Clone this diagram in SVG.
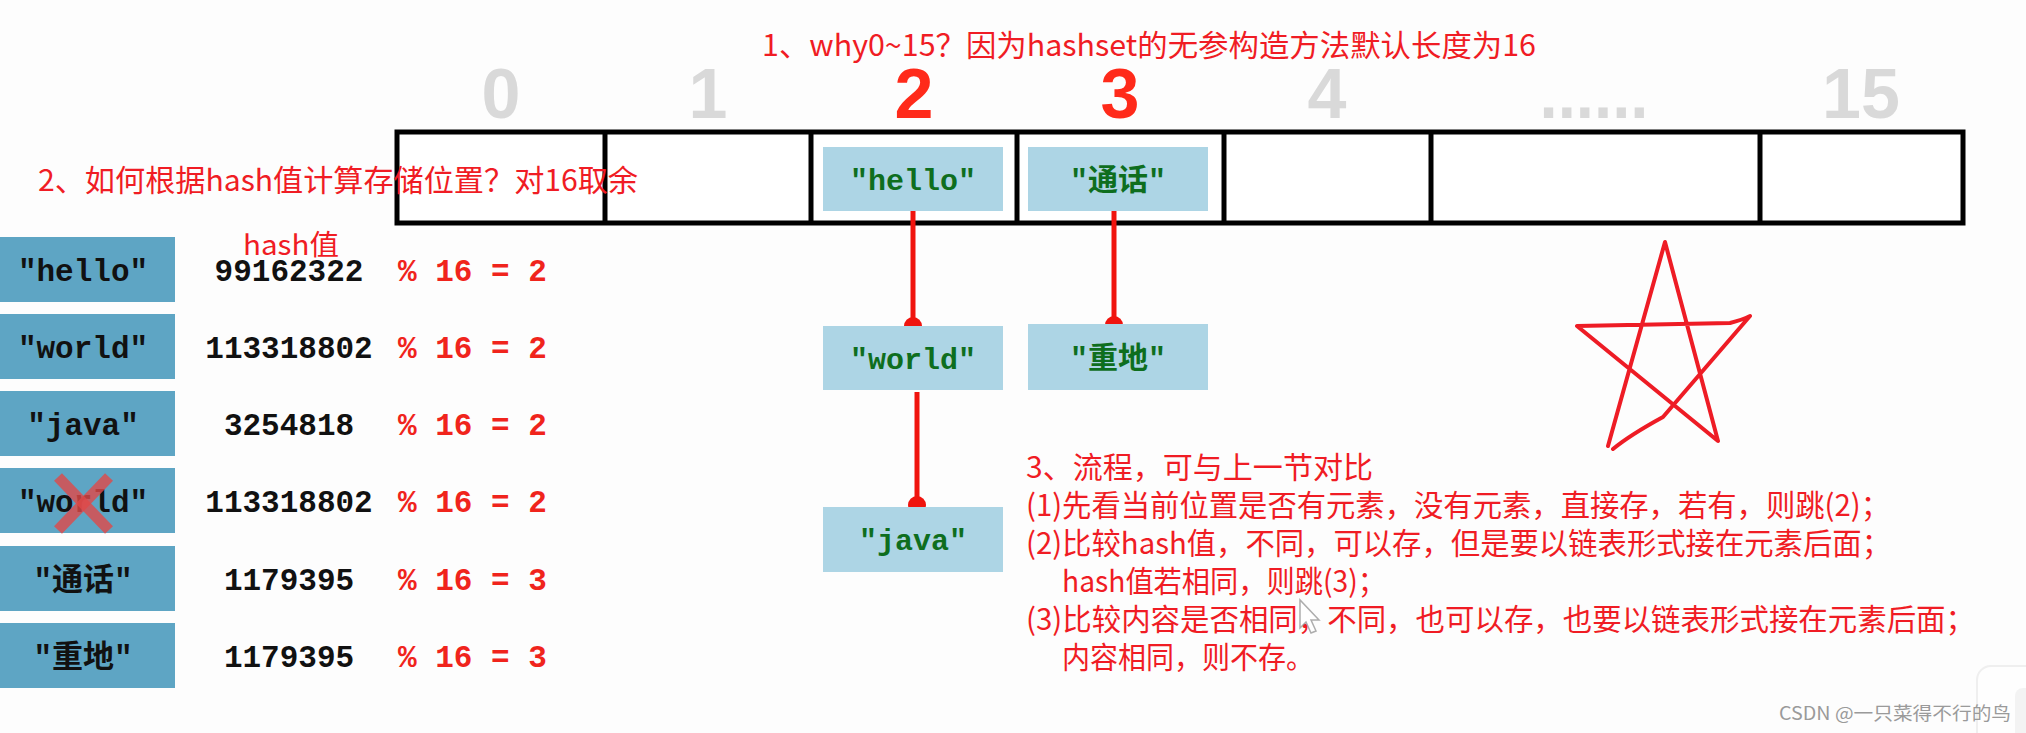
<svg xmlns="http://www.w3.org/2000/svg" width="2026" height="733" viewBox="0 0 2026 733">
<style>
.note{font-family:"Noto Sans CJK SC","Noto Sans",sans-serif;font-size:30px;fill:#f01c24}
.idx{font-family:"Liberation Sans",Arial,sans-serif;font-weight:bold;font-size:70px;text-anchor:middle;fill:#d9d9d9}
.idx.hot{fill:#ff2a1a}
.key{fill:#5ea5c4}
.ktxt{font-family:"Liberation Mono","Noto Sans CJK SC",monospace;font-weight:bold;font-size:31px;fill:#111;text-anchor:middle}
.num{font-family:"Liberation Mono",monospace;font-weight:bold;font-size:31px;fill:#111;text-anchor:middle}
.mod{font-family:"Liberation Mono",monospace;font-weight:bold;font-size:31px;fill:#f0241c}
.cell{fill:#add5e5}
.ctxt{font-family:"Liberation Mono","Noto Sans CJK SC",monospace;font-weight:bold;font-size:30px;fill:#0e6e1e;text-anchor:middle}
.link{stroke:#f0140e;stroke-width:5;fill:none}
.dot{fill:#f0140e}
</style>
<rect x="0" y="0" width="2026" height="733" fill="#fdfdfd"/>

<!-- annotations -->
<text class="note" x="762" y="56" textLength="774" lengthAdjust="spacingAndGlyphs">1、why0~15？因为hashset的无参构造方法默认长度为16</text>

<!-- indices -->
<g id="indices">
<text class="idx" x="501" y="118">0</text>
<text class="idx" x="708" y="118">1</text>
<text class="idx hot" x="914" y="118">2</text>
<text class="idx hot" x="1120" y="118">3</text>
<text class="idx" x="1327" y="118">4</text>
<text class="idx" x="1594" y="118" textLength="109" lengthAdjust="spacingAndGlyphs">......</text>
<text class="idx" x="1861" y="118">15</text>
</g>

<!-- table -->
<g id="table" stroke="#000" stroke-width="5" fill="none">
<rect x="397" y="132" width="1566" height="91" fill="#fff"/>
<line x1="605" y1="132" x2="605" y2="223"/>
<line x1="811" y1="132" x2="811" y2="223"/>
<line x1="1017" y1="132" x2="1017" y2="223"/>
<line x1="1224" y1="132" x2="1224" y2="223"/>
<line x1="1431" y1="132" x2="1431" y2="223"/>
<line x1="1760" y1="132" x2="1760" y2="223"/>
</g>

<text class="note" x="38" y="191" textLength="600" lengthAdjust="spacingAndGlyphs">2、如何根据hash值计算存储位置？对16取余</text>
<text class="note" x="243" y="255" style="font-size:28px" textLength="96" lengthAdjust="spacingAndGlyphs">hash值</text>

<!-- left keys -->
<g id="key-hello"><rect class="key" x="0" y="237" width="175" height="65"/><text class="ktxt" x="83" y="281">"hello"</text><text class="num" x="289" y="281">99162322</text><text class="mod" x="398" y="281">% 16 = 2</text></g>
<g id="key-world"><rect class="key" x="0" y="314" width="175" height="65"/><text class="ktxt" x="83" y="358">"world"</text><text class="num" x="289" y="358">113318802</text><text class="mod" x="398" y="358">% 16 = 2</text></g>
<g id="key-java"><rect class="key" x="0" y="391" width="175" height="65"/><text class="ktxt" x="83" y="435">"java"</text><text class="num" x="289" y="435">3254818</text><text class="mod" x="398" y="435">% 16 = 2</text></g>
<g id="key-world2"><rect class="key" x="0" y="468" width="175" height="65"/><text class="ktxt" x="83" y="512">"world"</text><text class="num" x="289" y="512">113318802</text><text class="mod" x="398" y="512">% 16 = 2</text>
<g stroke="#e04848" stroke-opacity="0.8" stroke-width="11"><line x1="58" y1="477" x2="109" y2="530"/><line x1="109" y1="477" x2="58" y2="530"/></g></g>
<g id="key-tonghua"><rect class="key" x="0" y="546" width="175" height="65"/><text class="ktxt" x="83" y="590">"通话"</text><text class="num" x="289" y="590">1179395</text><text class="mod" x="398" y="590">% 16 = 3</text></g>
<g id="key-zhongdi"><rect class="key" x="0" y="623" width="175" height="65"/><text class="ktxt" x="83" y="667">"重地"</text><text class="num" x="289" y="667">1179395</text><text class="mod" x="398" y="667">% 16 = 3</text></g>

<!-- connectors -->
<g id="connectors">
<line class="link" x1="913" y1="211" x2="913" y2="326"/><circle class="dot" cx="913" cy="326" r="9"/>
<line class="link" x1="1114" y1="211" x2="1114" y2="325"/><circle class="dot" cx="1114" cy="325" r="9"/>
<line class="link" x1="917" y1="392" x2="917" y2="505"/><circle class="dot" cx="917" cy="505" r="9"/>
</g>

<!-- chain nodes -->
<g id="node-hello"><rect class="cell" x="823" y="147" width="180" height="64"/><text class="ctxt" x="913" y="190">"hello"</text></g>
<g id="node-tonghua"><rect class="cell" x="1028" y="147" width="180" height="64"/><text class="ctxt" x="1118" y="190">"通话"</text></g>
<g id="node-world"><rect class="cell" x="823" y="326" width="180" height="64"/><text class="ctxt" x="913" y="369">"world"</text></g>
<g id="node-zhongdi"><rect class="cell" x="1028" y="324" width="180" height="66"/><text class="ctxt" x="1118" y="368">"重地"</text></g>
<g id="node-java"><rect class="cell" x="823" y="507" width="180" height="65"/><text class="ctxt" x="913" y="550">"java"</text></g>

<!-- star -->
<path d="M1608,446 L1665,242 L1718,441 L1577,326 L1730,323 Q1742,320 1750,316 L1663,417 Q1630,435 1613,449" fill="none" stroke="#ee1c25" stroke-width="4" stroke-linejoin="round" stroke-linecap="round"/>

<!-- process notes -->
<g id="process">
<text class="note" x="1026" y="478" textLength="347" lengthAdjust="spacingAndGlyphs">3、流程，可与上一节对比</text>
<text class="note" x="1026" y="516" textLength="864" lengthAdjust="spacingAndGlyphs">(1)先看当前位置是否有元素，没有元素，直接存，若有，则跳(2)；</text>
<text class="note" x="1026" y="554" textLength="865" lengthAdjust="spacingAndGlyphs">(2)比较hash值，不同，可以存，但是要以链表形式接在元素后面；</text>
<text class="note" x="1062" y="592" textLength="324" lengthAdjust="spacingAndGlyphs">hash值若相同，则跳(3)；</text>
<text class="note" x="1026" y="630" textLength="949" lengthAdjust="spacingAndGlyphs">(3)比较内容是否相同，不同，也可以存，也要以链表形式接在元素后面；</text>
<text class="note" x="1062" y="668" textLength="252" lengthAdjust="spacingAndGlyphs">内容相同，则不存。</text>
</g>

<!-- cursor -->
<polygon points="1300,600 1300,628 1306,622 1311,633 1316,631 1311,620 1319,620" fill="#fff" fill-opacity="0.85" stroke="#8a8a8a" stroke-width="1.5" stroke-opacity="0.7"/>

<!-- side widget -->
<g opacity="0.6">
<rect x="1977" y="666" width="70" height="90" rx="14" fill="#fff" stroke="#e6e6e6" stroke-width="2"/>
<rect x="2015" y="688" width="20" height="60" rx="8" fill="#eeeeee"/>
</g>

<text x="1779" y="720" style="font-family:'Noto Sans CJK SC','Noto Sans',sans-serif;font-size:18px;fill:#9a9a9a" textLength="232" lengthAdjust="spacingAndGlyphs">CSDN @一只菜得不行的鸟</text>
</svg>
